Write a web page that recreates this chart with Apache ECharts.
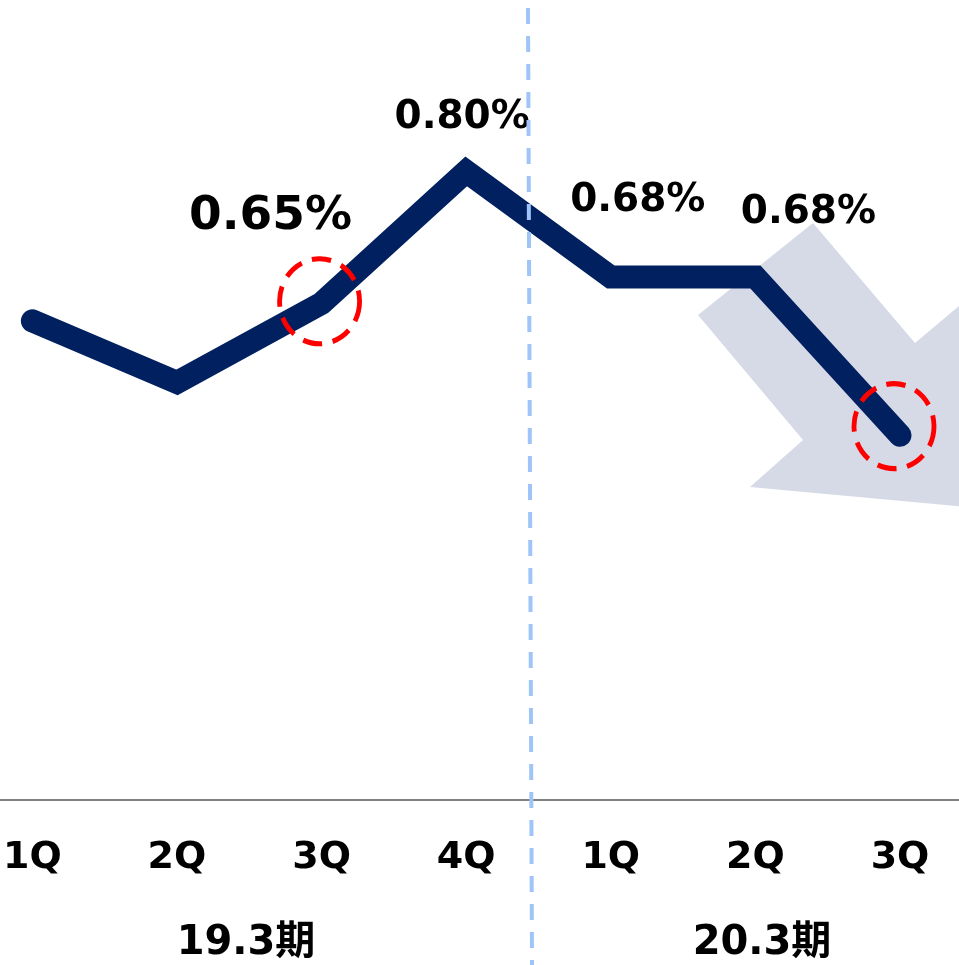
<!DOCTYPE html>
<html>
<head>
<meta charset="utf-8">
<script src="https://cdn.jsdelivr.net/npm/echarts@6/dist/echarts.min.js"></script>
<style>
html,body{margin:0;padding:0;background:#fff;}
#main{width:959px;height:965px;}
</style>
</head>
<body>
<div id="main"></div>
<script>
// quarters (19.3期: 1Q-4Q, 20.3期: 1Q-3Q)
var categories = ['1Q', '2Q', '3Q', '4Q', '1Q', '2Q', '3Q']
var periods = ['19.3期', '20.3期']
var ratio = [0.63, 0.56, 0.65, 0.80, 0.68, 0.68, 0.50]
// which points carry a label, and the text shown
var labelIdx = [2, 3, 4, 5]
var labelText = ['0.65%', '0.80%', '0.68%', '0.68%']
// points marked with a red dashed circle
var circled = [2, 6]

var fontMain = "'DejaVu Sans', 'Noto Sans CJK JP', sans-serif"
var navy = '#002060'

// label placement per labelled point (offset from the point)
var labelStyle = [
    {size: 47, off: [-51, -86]},
    {size: 39, off: [-4, -54]},
    {size: 39, off: [27, -76]},
    {size: 39, off: [53, -64]}
]
var circleOffset = [[-2, -2], [-6, -9]]

var seriesData = []
for (var i = 0; i < ratio.length; i++) {
    var k = labelIdx.indexOf(i)
    var item = {value: ratio[i]}
    if (k > -1) {
        item.label = {
            show: true,
            position: 'inside',
            formatter: labelText[k],
            offset: labelStyle[k].off,
            fontSize: labelStyle[k].size,
            fontWeight: 'bold',
            fontFamily: fontMain,
            color: '#000'
        }
    }
    seriesData.push(item)
}

var marks = []
for (var j = 0; j < circled.length; j++) {
    marks.push({
        coord: [circled[j], ratio[circled[j]]],
        symbolOffset: circleOffset[j]
    })
}

var myChart = echarts.init(document.getElementById('main'))
option = {
    backgroundColor: '#fff',
    animation: false,
    grid: {
        left: 28,
        right: 59,
        top: 0,
        bottom: 165
    },
    xAxis: {
        type: 'category',
        data: categories,
        boundaryGap: false,
        axisTick: {show: false},
        axisLine: {show: false},
        axisLabel: {
            color: '#000',
            fontSize: 38,
            fontWeight: 'bold',
            fontFamily: fontMain,
            margin: 39
        }
    },
    yAxis: {
        type: 'value',
        min: 0.085,
        max: 0.995,
        show: false,
        splitLine: {show: false}
    },
    graphic: [
        {
            type: 'polygon',
            z: 0,
            shape: {points: [[698, 315], [813, 223], [915, 343], [978, 290], [978, 508], [750, 487], [803, 440]]},
            style: {fill: '#d6dae6'}
        },
        {
            // base line across the full width
            type: 'line',
            z: 1,
            shape: {x1: 0, y1: 800, x2: 959, y2: 800},
            style: {stroke: '#808080', lineWidth: 2}
        },
        {
            type: 'line',
            z: 100,
            shape: {x1: 528, y1: 8, x2: 532, y2: 965},
            style: {stroke: '#9ec4f8', lineWidth: 4, lineDash: [16, 12]}
        },
        {
            type: 'text',
            x: 246, y: 944,
            style: {text: periods[0], fill: '#000', font: 'bold 40px ' + fontMain, textAlign: 'center', textVerticalAlign: 'middle'}
        },
        {
            type: 'text',
            x: 762, y: 944,
            style: {text: periods[1], fill: '#000', font: 'bold 40px ' + fontMain, textAlign: 'center', textVerticalAlign: 'middle'}
        }
    ],
    series: [
        {
            type: 'line',
            data: seriesData,
            symbol: 'circle',
            symbolSize: 1,
            itemStyle: {color: navy},
            lineStyle: {color: navy, width: 23, cap: 'round', join: 'miter'},
            markPoint: {
                symbol: 'circle',
                symbolSize: [80, 85],
                itemStyle: {
                    color: 'rgba(0,0,0,0)',
                    borderColor: '#ff0000',
                    borderWidth: 5,
                    borderType: [20, 11]
                },
                label: {show: false},
                data: marks
            }
        }
    ]
}
myChart.setOption(option)
</script>
</body>
</html>
